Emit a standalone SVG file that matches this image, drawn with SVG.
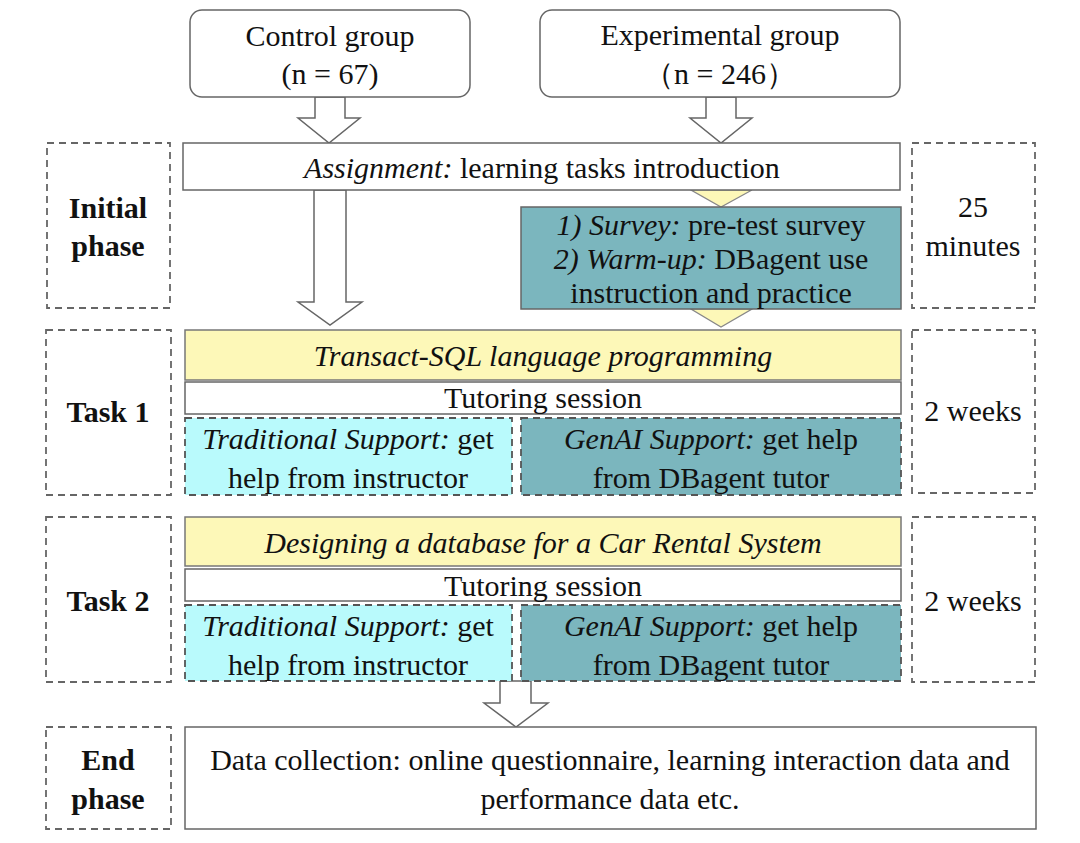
<svg xmlns="http://www.w3.org/2000/svg" width="1080" height="843" viewBox="0 0 1080 843">
<style>
text{font-family:"Liberation Serif","Times New Roman",serif;font-size:30px;fill:#111;text-anchor:middle}
.b{font-weight:bold}
.i{font-style:italic}
.solid{fill:#fff;stroke:#666;stroke-width:1.5}
.dash{fill:#fff;stroke:#666;stroke-width:1.8;stroke-dasharray:7 5}
.yel{fill:#fdf8b8;stroke:#777;stroke-width:1.5}
.teal{fill:#7bb6be;stroke:#666;stroke-width:1.5}
.tealD{fill:#7bb6be;stroke:#555;stroke-width:1.8;stroke-dasharray:7 5}
.cyanD{fill:#b9fafc;stroke:#555;stroke-width:1.8;stroke-dasharray:7 5}
.arr{fill:#fff;stroke:#666;stroke-width:1.5;stroke-linejoin:miter}
.tri{fill:#fdf8b8;stroke:#888;stroke-width:1.2}
</style>
<rect width="1080" height="843" fill="#fff"/>

<g id="connectors">
<polygon class="arr" points="315,97 345,97 345,118 360,118 329,143 298,118 315,118"/>
<polygon class="arr" points="706,97 736,97 736,118 752,118 721,143 690,118 706,118"/>
<polygon class="arr" points="314,190 346,190 346,302 362,302 330,325 298,302 314,302"/>
<polygon class="tri" points="691,190 752,190 721,207"/>
<polygon class="tri" points="691,309 752,309 721,327"/>
<polygon class="arr" points="500,681 531,681 531,703 548,703 516,727 484,703 500,703"/>
</g>

<g id="control">
<rect class="solid" x="190" y="10" width="280" height="87" rx="12"/>
<text x="330" y="46">Control group</text>
<text x="330" y="84">(n = 67)</text>
</g>
<g id="experimental">
<rect class="solid" x="540" y="10" width="360" height="87" rx="12"/>
<text x="720" y="45">Experimental group</text>
<text x="720" y="84">（n = 246）</text>
</g>

<g id="initial-label">
<rect class="dash" x="47" y="143" width="123" height="165"/>
<text class="b" x="108" y="218">Initial</text>
<text class="b" x="108" y="256">phase</text>
</g>
<g id="initial-time">
<rect class="dash" x="912" y="143" width="123" height="165"/>
<text x="973" y="217">25</text>
<text x="973" y="256">minutes</text>
</g>
<g id="assignment">
<rect class="solid" x="183" y="143" width="717" height="47"/>
<text x="542" y="178"><tspan class="i">Assignment:</tspan> learning tasks introduction</text>
</g>
<g id="survey">
<rect class="teal" x="521" y="207" width="380" height="102"/>
<text x="711" y="235"><tspan class="i">1) Survey:</tspan> pre-test survey</text>
<text x="711" y="269"><tspan class="i">2) Warm-up:</tspan> DBagent use</text>
<text x="711" y="303">instruction and practice</text>
</g>

<g id="task1-label">
<rect class="dash" x="46" y="330" width="125" height="165"/>
<text class="b" x="108" y="422">Task 1</text>
</g>
<g id="task1-time">
<rect class="dash" x="912" y="330" width="123" height="163"/>
<text x="973" y="421">2 weeks</text>
</g>
<g id="task1-title">
<rect class="yel" x="185" y="330" width="716" height="50"/>
<text class="i" x="543" y="366">Transact-SQL language programming</text>
</g>
<g id="task1-tutoring">
<rect class="solid" x="185" y="382" width="716" height="32"/>
<text x="543" y="408">Tutoring session</text>
</g>
<g id="task1-traditional">
<rect class="cyanD" x="185" y="418" width="327" height="77"/>
<text x="348" y="449"><tspan class="i">Traditional Support:</tspan> get</text>
<text x="348" y="488">help from instructor</text>
</g>
<g id="task1-genai">
<rect class="tealD" x="521" y="418" width="380" height="77"/>
<text x="711" y="449"><tspan class="i">GenAI Support:</tspan> get help</text>
<text x="711" y="488">from DBagent tutor</text>
</g>

<g id="task2-label">
<rect class="dash" x="46" y="517" width="125" height="165"/>
<text class="b" x="108" y="611">Task 2</text>
</g>
<g id="task2-time">
<rect class="dash" x="912" y="517" width="123" height="165"/>
<text x="973" y="611">2 weeks</text>
</g>
<g id="task2-title">
<rect class="yel" x="185" y="517" width="716" height="49"/>
<text class="i" x="543" y="553">Designing a database for a Car Rental System</text>
</g>
<g id="task2-tutoring">
<rect class="solid" x="185" y="569" width="716" height="32"/>
<text x="543" y="596">Tutoring session</text>
</g>
<g id="task2-traditional">
<rect class="cyanD" x="185" y="605" width="327" height="76"/>
<text x="348" y="636"><tspan class="i">Traditional Support:</tspan> get</text>
<text x="348" y="675">help from instructor</text>
</g>
<g id="task2-genai">
<rect class="tealD" x="521" y="605" width="380" height="76"/>
<text x="711" y="636"><tspan class="i">GenAI Support:</tspan> get help</text>
<text x="711" y="675">from DBagent tutor</text>
</g>

<g id="end-label">
<rect class="dash" x="46" y="727" width="125" height="102"/>
<text class="b" x="108" y="770">End</text>
<text class="b" x="108" y="809">phase</text>
</g>
<g id="data-collection">
<rect class="solid" x="185" y="727" width="851" height="102"/>
<text x="610" y="770">Data collection: online questionnaire, learning interaction data and</text>
<text x="610" y="809">performance data etc.</text>
</g>
</svg>
